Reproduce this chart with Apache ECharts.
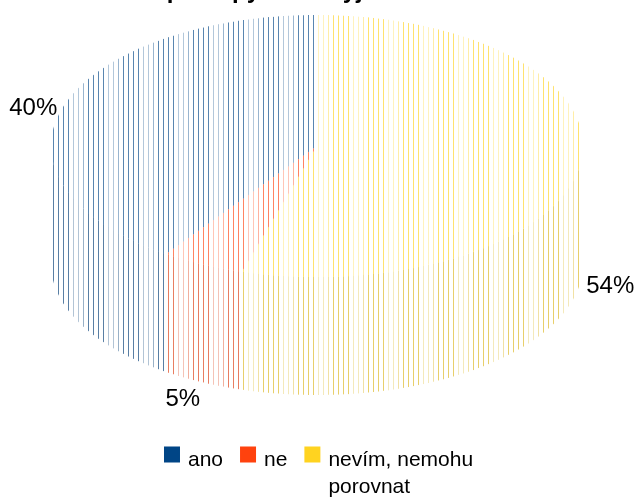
<!DOCTYPE html>
<html>
<head>
<meta charset="utf-8">
<script src="https://cdn.jsdelivr.net/npm/echarts@6/dist/echarts.min.js"></script>
<style>
  html, body { margin: 0; padding: 0; background: #ffffff; }
  #chart { width: 636px; height: 497px; }
</style>
</head>
<body>
<div id="chart"></div>
<script>
// Answers and their shares (percent)
const categories = ['ano', 'ne', 'nevím, nemohu porovnat'];
const shares = [40, 5, 54];
const sliceColors = ['#004586', '#ff420e', '#ffd320'];
const titleText = 'Jsou postupy dnes vyjasněné?';

// Tilted pie: ellipse of the top face and height of the side wall
const PIE = { cx: 317, cy: 146, rx: 266, ry: 131, depth: 118 };
const FONT = 'Liberation Sans, Arial, sans-serif';

const total = shares.reduce((a, b) => a + b, 0);

function darken(hex, k) {
  const n = parseInt(hex.slice(1), 16);
  const r = Math.round(((n >> 16) & 255) * k);
  const g = Math.round(((n >> 8) & 255) * k);
  const b = Math.round((n & 255) * k);
  return 'rgb(' + r + ',' + g + ',' + b + ')';
}

// Vertical-line hatch used to fill the slices
function hatch(color) {
  const c = document.createElement('canvas');
  c.width = 35; c.height = 4;
  const g = c.getContext('2d');
  const alphas = [0.3, 0.3, 0.4, 0.65, 0.65, 0.65, 0.65];
  alphas.forEach((a, i) => {
    g.globalAlpha = a;
    g.fillStyle = color;
    g.fillRect(3 + 5 * i, 0, 1, 4);
  });
  return { image: c, repeat: 'repeat' };
}

// fraction of the circle -> screen angle (start at 12 o'clock, counter-clockwise)
function angleOf(f) { return -Math.PI / 2 - 2 * Math.PI * f; }
function rimPoint(t, dy) {
  return [PIE.cx + PIE.rx * Math.cos(t), PIE.cy + PIE.ry * Math.sin(t) + (dy || 0)];
}

function frontParts(lo, hi) {
  const parts = [];
  for (let k = -2; k <= 2; k++) {
    const a = Math.max(lo + 2 * Math.PI * k, 0);
    const b = Math.min(hi + 2 * Math.PI * k, Math.PI);
    if (b > a) parts.push([a, b]);
  }
  return parts;
}

function renderSlice(params, api) {
  const i = params.seriesIndex;
  const value = api.value(0);
  let before = 0;
  for (let j = 0; j < i; j++) before += shares[j];
  const f0 = before / total;
  const f1 = (before + value) / total;
  const t0 = angleOf(f0), t1 = angleOf(f1);
  const color = sliceColors[i];
  const children = [];

  // side wall (only the front half of the rim is visible)
  frontParts(t1, t0).forEach(([a, b]) => {
    const pts = [];
    const n = Math.max(2, Math.ceil((b - a) / 0.01));
    for (let s = 0; s <= n; s++) pts.push(rimPoint(a + (b - a) * s / n));
    for (let s = n; s >= 0; s--) pts.push(rimPoint(a + (b - a) * s / n, PIE.depth));
    children.push({
      type: 'polygon',
      shape: { points: pts },
      style: { fill: hatch(darken(color, 0.86)) }
    });
  });

  // top face sector
  const top = [[PIE.cx, PIE.cy]];
  const m = Math.max(2, Math.ceil(Math.abs(t0 - t1) / 0.01));
  for (let s = 0; s <= m; s++) top.push(rimPoint(t0 + (t1 - t0) * s / m));
  children.push({
    type: 'polygon',
    shape: { points: top },
    style: { fill: hatch(color) }
  });

  // percentage label outside the rim
  const tm = (t0 + t1) / 2;
  const c = Math.cos(tm), sn = Math.sin(tm);
  const off = 6;
  const vAlign = sn > 0.5 ? 'top' : (sn < -0.5 ? 'bottom' : 'middle');
  const lx = PIE.cx + (PIE.rx + off) * c;
  const ly = PIE.cy + (PIE.ry + off) * sn + (sn > 0 ? PIE.depth : 0) + (vAlign === 'middle' ? 3 : 0);
  children.push({
    type: 'text',
    style: {
      text: value + '%',
      x: lx, y: ly,
      align: c > 0.3 ? 'left' : (c < -0.3 ? 'right' : 'center'),
      verticalAlign: vAlign,
      font: '24px ' + FONT,
      fill: '#000000'
    }
  });

  return { type: 'group', children: children };
}

const chart = echarts.init(document.getElementById('chart'), null, { renderer: 'canvas' });

const legendText = { fontFamily: FONT, fontSize: 21, lineHeight: 27, color: '#000000' };

chart.setOption({
  animation: false,
  backgroundColor: '#ffffff',
  title: {
    text: titleText,
    left: 104,
    top: -21,
    padding: 0,
    textStyle: { fontFamily: FONT, fontSize: 24, fontWeight: 'bold', color: '#000000' }
  },
  legend: {
    left: 164,
    top: 427,
    padding: 0,
    // square swatch followed by a small gap before the label
    icon: 'path://M0,0H16V16H0Z M19,16h0.01v0.01h-0.01z',
    itemWidth: 19,
    itemHeight: 16,
    itemGap: 17,
    selectedMode: false,
    formatter: name => name === categories[2]
      ? '{lead2| }\n{t|nevím, nemohu}\n{t|porovnat}'
      : '{lead| }\n{t|' + name + '}',
    textStyle: {
      rich: {
        lead: { fontSize: 1, lineHeight: 12 },
        lead2: { fontSize: 1, lineHeight: 39 },
        t: legendText
      }
    },
    data: categories
  },
  series: categories.map((name, i) => ({
    type: 'custom',
    name: name,
    coordinateSystem: 'none',
    itemStyle: { color: sliceColors[i] },
    renderItem: renderSlice,
    data: [shares[i]]
  }))
});
</script>
</body>
</html>
